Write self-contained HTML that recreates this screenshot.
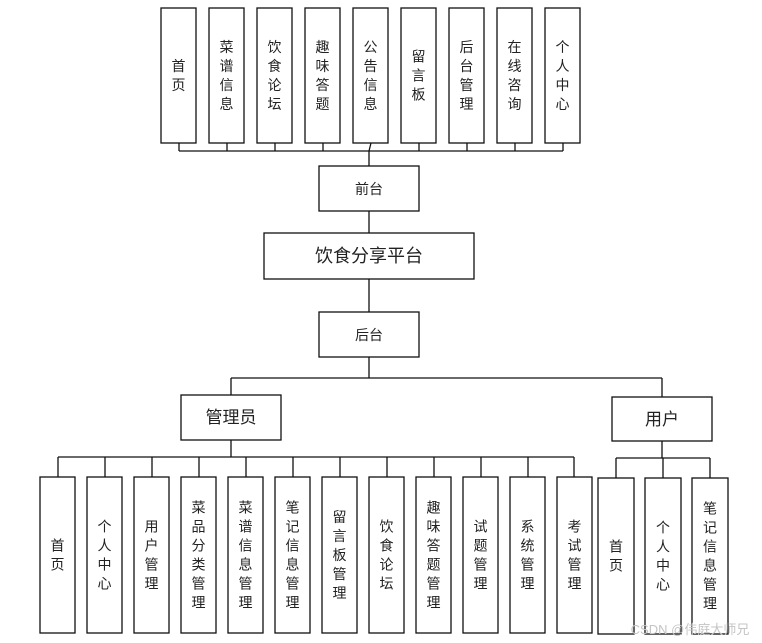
<!DOCTYPE html>
<html><head><meta charset="utf-8"><style>
html,body{margin:0;padding:0;background:#fff;width:762px;height:643px;overflow:hidden}
svg{display:block}
text{font-family:"Liberation Sans","Noto Sans CJK SC",sans-serif;fill:#222}
</style></head><body>
<svg width="762" height="643" xmlns="http://www.w3.org/2000/svg">
<g stroke="#111" stroke-width="1.3" fill="none">
<line x1="179" y1="151" x2="563" y2="151"/>
<line x1="179" y1="143" x2="179" y2="151"/><line x1="227" y1="143" x2="227" y2="151"/><line x1="275" y1="143" x2="275" y2="151"/><line x1="323" y1="143" x2="323" y2="151"/><line x1="371" y1="143" x2="369" y2="151"/><line x1="419" y1="143" x2="419" y2="151"/><line x1="467" y1="143" x2="467" y2="151"/><line x1="515" y1="143" x2="515" y2="151"/><line x1="563" y1="143" x2="563" y2="151"/>
<line x1="369" y1="151" x2="369" y2="166"/>
<line x1="369" y1="211" x2="369" y2="233"/>
<line x1="369" y1="279" x2="369" y2="312"/>
<line x1="369" y1="357" x2="369" y2="378"/>
<line x1="231" y1="378" x2="662" y2="378"/>
<line x1="231" y1="378" x2="231" y2="395"/>
<line x1="662" y1="378" x2="662" y2="397"/>
<line x1="231" y1="440" x2="231" y2="457"/>
<line x1="58" y1="457" x2="574" y2="457"/>
<line x1="58" y1="457" x2="58" y2="477"/><line x1="105" y1="457" x2="105" y2="477"/><line x1="152" y1="457" x2="152" y2="477"/><line x1="199" y1="457" x2="199" y2="477"/><line x1="246" y1="457" x2="246" y2="477"/><line x1="293" y1="457" x2="293" y2="477"/><line x1="340" y1="457" x2="340" y2="477"/><line x1="387" y1="457" x2="387" y2="477"/><line x1="434" y1="457" x2="434" y2="477"/><line x1="481" y1="457" x2="481" y2="477"/><line x1="528" y1="457" x2="528" y2="477"/><line x1="574" y1="457" x2="574" y2="477"/>
<line x1="662" y1="441" x2="662" y2="458"/>
<line x1="616" y1="458" x2="710" y2="458"/>
<line x1="616" y1="458" x2="616" y2="478"/><line x1="663" y1="458" x2="663" y2="478"/><line x1="710" y1="458" x2="710" y2="478"/>
<rect x="319" y="166" width="100" height="45"/>
<rect x="264" y="233" width="210" height="46"/>
<rect x="319" y="312" width="100" height="45"/>
<rect x="181" y="395" width="100" height="45"/>
<rect x="612" y="397" width="100" height="44"/>
<!-- top boxes -->
<rect x="161" y="8" width="35" height="135"/><rect x="209" y="8" width="35" height="135"/><rect x="257" y="8" width="35" height="135"/><rect x="305" y="8" width="35" height="135"/><rect x="353" y="8" width="35" height="135"/><rect x="401" y="8" width="35" height="135"/><rect x="449" y="8" width="35" height="135"/><rect x="497" y="8" width="35" height="135"/><rect x="545" y="8" width="35" height="135"/>
<!-- admin boxes -->
<rect x="40" y="477" width="35" height="156"/><rect x="87" y="477" width="35" height="156"/><rect x="134" y="477" width="35" height="156"/><rect x="181" y="477" width="35" height="156"/><rect x="228" y="477" width="35" height="156"/><rect x="275" y="477" width="35" height="156"/><rect x="322" y="477" width="35" height="156"/><rect x="369" y="477" width="35" height="156"/><rect x="416" y="477" width="35" height="156"/><rect x="463" y="477" width="35" height="156"/><rect x="510" y="477" width="35" height="156"/><rect x="557" y="477" width="35" height="156"/>
<!-- user boxes -->
<rect x="598" y="478" width="36" height="156"/><rect x="645" y="478" width="36" height="156"/><rect x="692" y="478" width="36" height="156"/>
</g>
<text x="369" y="194" font-size="14" text-anchor="middle">前台</text>
<text x="369" y="262" font-size="18" text-anchor="middle" fill="#444">饮食分享平台</text>
<text x="369" y="340" font-size="14" text-anchor="middle">后台</text>
<text x="231" y="423" font-size="17" text-anchor="middle" fill="#444">管理员</text>
<text x="662" y="425" font-size="17" text-anchor="middle" fill="#444">用户</text>
<g font-size="14" text-anchor="middle">
<text x="178.5" y="71"><tspan x="178.5">首</tspan><tspan x="178.5" dy="19">页</tspan></text>
<text x="226.5" y="52"><tspan x="226.5">菜</tspan><tspan x="226.5" dy="19">谱</tspan><tspan x="226.5" dy="19">信</tspan><tspan x="226.5" dy="19">息</tspan></text>
<text x="274.5" y="52"><tspan x="274.5">饮</tspan><tspan x="274.5" dy="19">食</tspan><tspan x="274.5" dy="19">论</tspan><tspan x="274.5" dy="19">坛</tspan></text>
<text x="322.5" y="52"><tspan x="322.5">趣</tspan><tspan x="322.5" dy="19">味</tspan><tspan x="322.5" dy="19">答</tspan><tspan x="322.5" dy="19">题</tspan></text>
<text x="370.5" y="52"><tspan x="370.5">公</tspan><tspan x="370.5" dy="19">告</tspan><tspan x="370.5" dy="19">信</tspan><tspan x="370.5" dy="19">息</tspan></text>
<text x="418.5" y="61.5"><tspan x="418.5">留</tspan><tspan x="418.5" dy="19">言</tspan><tspan x="418.5" dy="19">板</tspan></text>
<text x="466.5" y="52"><tspan x="466.5">后</tspan><tspan x="466.5" dy="19">台</tspan><tspan x="466.5" dy="19">管</tspan><tspan x="466.5" dy="19">理</tspan></text>
<text x="514.5" y="52"><tspan x="514.5">在</tspan><tspan x="514.5" dy="19">线</tspan><tspan x="514.5" dy="19">咨</tspan><tspan x="514.5" dy="19">询</tspan></text>
<text x="562.5" y="52"><tspan x="562.5">个</tspan><tspan x="562.5" dy="19">人</tspan><tspan x="562.5" dy="19">中</tspan><tspan x="562.5" dy="19">心</tspan></text>

<text y="550.5"><tspan x="57.5">首</tspan><tspan x="57.5" dy="19">页</tspan></text>
<text y="531.5"><tspan x="104.5">个</tspan><tspan x="104.5" dy="19">人</tspan><tspan x="104.5" dy="19">中</tspan><tspan x="104.5" dy="19">心</tspan></text>
<text y="531.5"><tspan x="151.5">用</tspan><tspan x="151.5" dy="19">户</tspan><tspan x="151.5" dy="19">管</tspan><tspan x="151.5" dy="19">理</tspan></text>
<text y="512.5"><tspan x="198.5">菜</tspan><tspan x="198.5" dy="19">品</tspan><tspan x="198.5" dy="19">分</tspan><tspan x="198.5" dy="19">类</tspan><tspan x="198.5" dy="19">管</tspan><tspan x="198.5" dy="19">理</tspan></text>
<text y="512.5"><tspan x="245.5">菜</tspan><tspan x="245.5" dy="19">谱</tspan><tspan x="245.5" dy="19">信</tspan><tspan x="245.5" dy="19">息</tspan><tspan x="245.5" dy="19">管</tspan><tspan x="245.5" dy="19">理</tspan></text>
<text y="512.5"><tspan x="292.5">笔</tspan><tspan x="292.5" dy="19">记</tspan><tspan x="292.5" dy="19">信</tspan><tspan x="292.5" dy="19">息</tspan><tspan x="292.5" dy="19">管</tspan><tspan x="292.5" dy="19">理</tspan></text>
<text y="522"><tspan x="339.5">留</tspan><tspan x="339.5" dy="19">言</tspan><tspan x="339.5" dy="19">板</tspan><tspan x="339.5" dy="19">管</tspan><tspan x="339.5" dy="19">理</tspan></text>
<text y="531.5"><tspan x="386.5">饮</tspan><tspan x="386.5" dy="19">食</tspan><tspan x="386.5" dy="19">论</tspan><tspan x="386.5" dy="19">坛</tspan></text>
<text y="512.5"><tspan x="433.5">趣</tspan><tspan x="433.5" dy="19">味</tspan><tspan x="433.5" dy="19">答</tspan><tspan x="433.5" dy="19">题</tspan><tspan x="433.5" dy="19">管</tspan><tspan x="433.5" dy="19">理</tspan></text>
<text y="531.5"><tspan x="480.5">试</tspan><tspan x="480.5" dy="19">题</tspan><tspan x="480.5" dy="19">管</tspan><tspan x="480.5" dy="19">理</tspan></text>
<text y="531.5"><tspan x="527.5">系</tspan><tspan x="527.5" dy="19">统</tspan><tspan x="527.5" dy="19">管</tspan><tspan x="527.5" dy="19">理</tspan></text>
<text y="531.5"><tspan x="574.5">考</tspan><tspan x="574.5" dy="19">试</tspan><tspan x="574.5" dy="19">管</tspan><tspan x="574.5" dy="19">理</tspan></text>

<text y="551.5"><tspan x="616">首</tspan><tspan x="616" dy="19">页</tspan></text>
<text y="532.5"><tspan x="663">个</tspan><tspan x="663" dy="19">人</tspan><tspan x="663" dy="19">中</tspan><tspan x="663" dy="19">心</tspan></text>
<text y="513.5"><tspan x="710">笔</tspan><tspan x="710" dy="19">记</tspan><tspan x="710" dy="19">信</tspan><tspan x="710" dy="19">息</tspan><tspan x="710" dy="19">管</tspan><tspan x="710" dy="19">理</tspan></text>
</g>
<text x="690" y="634" font-size="13" text-anchor="middle" style="fill:#c4c4c4">CSDN @伟庭大师兄</text>
</svg>
</body></html>
